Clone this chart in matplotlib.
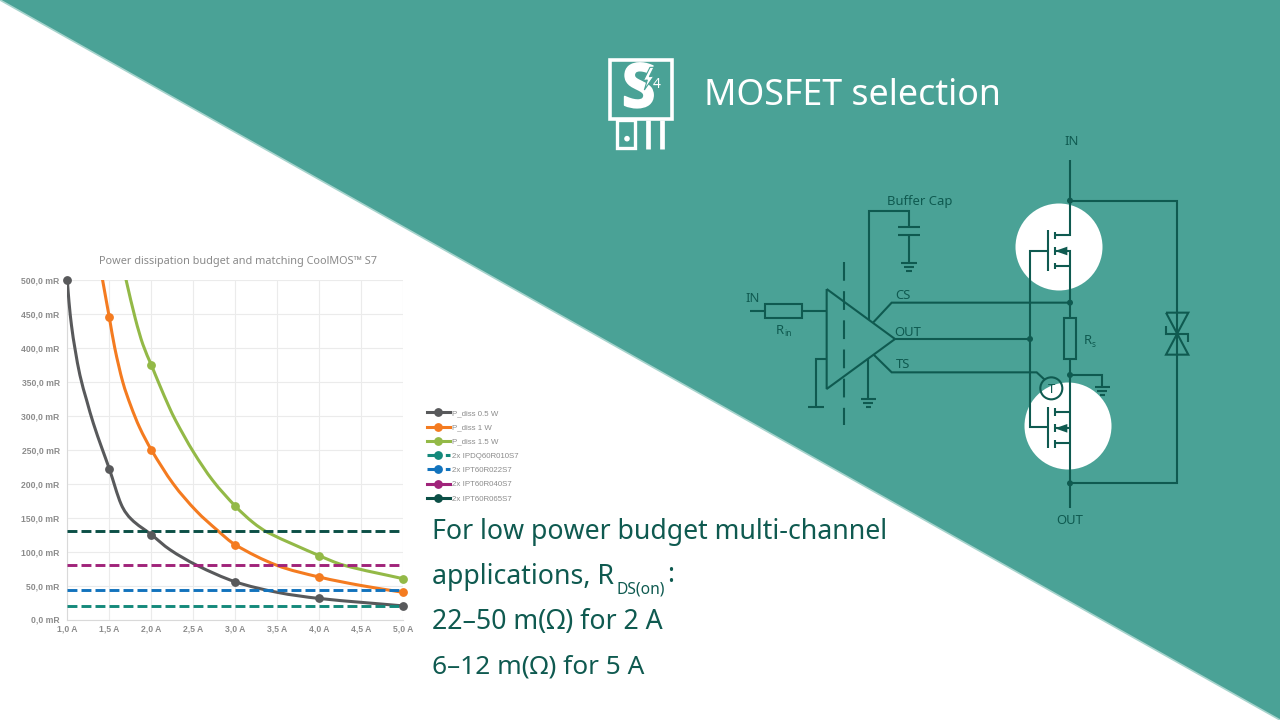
import matplotlib
matplotlib.use("Agg")
import matplotlib.pyplot as plt
from matplotlib.lines import Line2D
from matplotlib.path import Path
from matplotlib.patches import PathPatch, Polygon, Circle, Rectangle
import matplotlib.patheffects as pe

# ---------- data ----------
# points
P05_X = [1.0, 1.02, 1.05, 1.09, 1.15, 1.23, 1.31, 1.41, 1.5, 1.64, 1.76, 2.0, 2.22, 2.54, 3.0, 3.5, 4.0, 5.0]
P05_Y = [500, 468, 433, 400, 360, 323, 289, 253, 222, 170, 148, 125, 103, 80, 55.5, 40, 31, 20]
P10_X = [1.40, 1.42, 1.5, 1.565, 1.66, 1.755, 1.86, 2.0, 2.26, 2.535, 2.79, 3.0, 3.49, 4.0, 4.5, 5.0]
P10_Y = [515, 500, 445, 400, 350, 315, 283, 250, 200, 160, 131, 110, 80, 62.5, 50, 40]
P15_X = [1.68, 1.70, 1.81, 1.90, 2.0, 2.10, 2.205, 2.29, 2.5, 2.73, 3.0, 3.21, 3.39, 4.0, 4.29, 5.0]
P15_Y = [512, 500, 443, 405, 375, 345, 315, 293, 247, 205, 167, 143, 128, 94, 80, 60]
# the round dots on each curve
P05_DOT_X = [1.0, 1.5, 2.0, 3.0, 4.0, 5.0]
P05_DOT_Y = [500, 222, 125, 55.5, 31, 20]
P10_DOT_X = [1.5, 2.0, 3.0, 4.0, 5.0]
P10_DOT_Y = [445, 250, 110, 62.5, 40]
P15_DOT_X = [2.0, 3.0, 4.0, 5.0]
P15_DOT_Y = [375, 167, 94, 60]
LEVEL_NAMES = ["2x IPDQ60R010S7", "2x IPT60R022S7", "2x IPT60R040S7", "2x IPT60R065S7"]
LEVEL_VALUES = [19.5, 43, 80, 130]
X_TICKS = [1.0, 1.5, 2.0, 2.5, 3.0, 3.5, 4.0, 4.5, 5.0]
X_LABELS = ["1,0 A", "1,5 A", "2,0 A", "2,5 A", "3,0 A", "3,5 A", "4,0 A", "4,5 A", "5,0 A"]
Y_TICKS = [0, 50, 100, 150, 200, 250, 300, 350, 400, 450, 500]
Y_LABELS = ["0,0 mR", "50,0 mR", "100,0 mR", "150,0 mR", "200,0 mR", "250,0 mR",
            "300,0 mR", "350,0 mR", "400,0 mR", "450,0 mR", "500,0 mR"]
CURVE_NAMES = ["P_diss 0.5 W", "P_diss 1 W", "P_diss 1.5 W"]
CURVE_COLORS = ["#58595b", "#f47b20", "#93b947"]
LEVEL_COLORS = ["#14897b", "#1273bd", "#a0237a", "#0b4f46"]
TITLE = "Power dissipation budget and matching CoolMOS\u2122 S7"
HEADING = "MOSFET selection"
BODY_LINES = ["For low power budget multi-channel", "applications, R", "22\u201350 m(\u03a9) for 2 A", "6\u201312 m(\u03a9) for 5 A"]

TEAL = "#4aa296"
EDGE = "#a5d3cc"
DARK = "#0f5a50"
W, H = 1280, 720

fig = plt.figure(figsize=(12.8, 7.2), dpi=100, facecolor="white")
bg = fig.add_axes([0, 0, 1, 1], zorder=0)
bg.set_xlim(0, W); bg.set_ylim(H, 0); bg.axis("off")

# ---------- background ----------
bg.add_patch(Polygon([(0, 0), (W, 0), (W, H)], closed=True, fc=TEAL, ec="none"))
bg.plot([0, W], [0, H], color=EDGE, lw=1.2)
bg.add_patch(Circle((1059, 247), 43.5, fc="white", ec="none", zorder=1))
bg.add_patch(Circle((1068, 426), 43.5, fc="white", ec="none", zorder=1))

def Z(x, y):
    return 730 + x / 3, 120 + y / 3

def wire(*pts, lw=1.5, **kw):
    xy = [Z(*p) for p in pts]
    bg.plot([p[0] for p in xy], [p[1] for p in xy], color=DARK, lw=lw,
            solid_capstyle="butt", solid_joinstyle="miter", zorder=2, **kw)

def ground(x, y):
    wire((x - 23, y), (x + 23, y))
    wire((x - 15, y + 12), (x + 15, y + 12))
    wire((x - 8, y + 24), (x + 8, y + 24))

# ---------- schematic ----------
wire((1020, 120), (1020, 345), (975, 345))
wire((975, 393), (1020, 393), (1020, 1165))
wire((975, 438), (1020, 438))
wire((953, 330), (953, 453))
wire((975, 335), (975, 358)); wire((975, 380), (975, 405)); wire((975, 428), (975, 448))
wire((953, 393), (900, 393), (900, 920), (953, 920))
wire((953, 860), (953, 985))
wire((975, 865), (975, 888)); wire((975, 912), (975, 937)); wire((975, 960), (975, 985))
wire((975, 875), (1020, 875)); wire((975, 925), (1020, 925)); wire((975, 968), (1020, 968))
for cy in (393, 925):
    bg.add_patch(Polygon([Z(975, cy), Z(1012, cy - 13), Z(1012, cy + 13)], closed=True,
                         fc=DARK, ec="none", zorder=3))
wire((1020, 242), (1340, 242), (1340, 1090), (1020, 1090))
wire((1308, 578), (1375, 578), (1308, 704), (1375, 704), (1308, 578))
wire((1308, 617), (1308, 642), (1375, 642), (1375, 665))
(rx, ry) = Z(1002, 595)
bg.add_patch(Rectangle((rx, ry), 35 / 3, 123 / 3, fc=TEAL, ec=DARK, lw=1.5, zorder=3))
(rx, ry) = Z(105, 553)
bg.add_patch(Rectangle((rx, ry), 110 / 3, 40 / 3, fc=TEAL, ec=DARK, lw=1.5, zorder=3))
wire((60, 573), (105, 573)); wire((215, 573), (290, 573))
wire((290, 507), (495, 657), (290, 807), (290, 507))
wire((430, 607), (485, 548), (1020, 548))
wire((490, 657), (900, 657))
wire((430, 703), (485, 757), (920, 757), (945, 780))
wire((343, 425), (343, 915), linestyle=(0, (9, 5)))
wire((290, 717), (257, 717), (257, 862)); wire((233, 862), (282, 862))
wire((418, 600), (418, 273), (537, 273), (537, 322))
wire((503, 322), (571, 322)); wire((503, 345), (571, 345))
wire((537, 345), (537, 430)); ground(537, 430)
wire((415, 715), (415, 838)); ground(415, 838)
wire((1020, 765), (1117, 765), (1117, 800)); ground(1117, 800)
cx, cy = Z(964, 805)
bg.add_patch(Circle((cx, cy), 11, fc="none", ec=DARK, lw=1.5, zorder=3))
for p in [(1020, 242), (1020, 548), (1020, 765), (1020, 1090), (900, 657)]:
    cx, cy = Z(*p)
    bg.add_patch(Circle((cx, cy), 3, fc=DARK, ec="none", zorder=3))

SF = ["Noto Sans", "DejaVu Sans"]
def label(x, y, s, size=9.4, **kw):
    px, py = Z(x, y)
    bg.text(px, py, s, color=DARK, fontsize=size, family=SF, ha="center", va="center", zorder=4, **kw)
label(1025, 65, "IN"); label(570, 245, "Buffer Cap"); label(68, 535, "IN")
label(150, 630, "R"); label(174, 641, "in", size=6)
label(518, 527, "CS"); label(533, 636, "OUT"); label(518, 735, "TS")
label(1072, 660, "R"); label(1090, 674, "s", size=6)
label(964, 808, "T"); label(1020, 1203, "OUT")

# ---------- logo ----------
def lz(x, y):
    return 590 + x / 3, 40 + y / 3
(lx, ly) = lz(60, 60)
bg.add_patch(Rectangle((lx, ly), 62, 59, fc="none", ec="white", lw=2.6))
(lx, ly) = lz(82, 240)
bg.add_patch(Rectangle((lx, ly), 17.5, 28, fc="none", ec="white", lw=2.4))
for zx in (175, 216):
    a, b = lz(zx, 240)
    bg.plot([a, a], [b, b + 29], color="white", lw=3.4, solid_capstyle="butt")
a, b = lz(111, 296)
bg.add_patch(Circle((a, b), 2.8, fc="white", ec="none"))
a, b = lz(146, 155)
bg.text(a, b, "S", color="white", fontsize=44, fontweight="bold", family=["Liberation Sans Narrow", "Open Sans"],
        ha="center", va="center", path_effects=[pe.withStroke(linewidth=1.2, foreground="white")])
bg.add_patch(Polygon([lz(180, 82), lz(160, 122), lz(172, 120), lz(163, 150), lz(192, 108), lz(178, 110), lz(192, 82)],
                     closed=True, fc="white", ec=TEAL, lw=0.8, zorder=3))
a, b = lz(201, 132)
bg.text(a, b, "4", color="white", fontsize=10, family=SF, ha="center", va="center", zorder=3)
bg.text(704, 96, HEADING, color="white", fontsize=25.7, family=SF, ha="left", va="center")

# ---------- body text ----------
BS = 19.2
bg.text(432, 532, BODY_LINES[0], color=DARK, fontsize=BS, family=SF, ha="left", va="center")
bg.text(432, 577, BODY_LINES[1], color=DARK, fontsize=BS, family=SF, ha="left", va="center")
bg.text(617, 590, "DS(on)", color=DARK, fontsize=11.2, family=SF, ha="left", va="center")
bg.text(667, 575, ":", color=DARK, fontsize=BS, family=SF, ha="left", va="center")
bg.text(432, 622, BODY_LINES[2], color=DARK, fontsize=BS, family=SF, ha="left", va="center")
bg.text(432, 667, BODY_LINES[3], color=DARK, fontsize=BS - 0.3, family=SF, ha="left", va="center")

# ---------- chart ----------
L, R, T, B = 67.3, 403.3, 280, 619.5
ax = fig.add_axes([L / W, 1 - B / H, (R - L) / W, (B - T) / H], zorder=2)
ax.patch.set_alpha(0)
ax.set_xlim(1, 5); ax.set_ylim(0, 500)
ax.set_xticks(X_TICKS); ax.set_xticklabels(X_LABELS)
ax.set_yticks(Y_TICKS); ax.set_yticklabels(Y_LABELS)
ax.grid(True, color="#ebebeb", lw=0.8)
ax.set_axisbelow(True)
for s in ("top", "right"):
    ax.spines[s].set_visible(False)
for s in ("left", "bottom"):
    ax.spines[s].set_color("#d9d9d9"); ax.spines[s].set_linewidth(0.8)
ax.tick_params(axis="y", length=0, pad=5.5, labelsize=6.2, labelcolor="#8c8c8c")
ax.tick_params(axis="x", length=0, pad=3.5, labelsize=6.2, labelcolor="#8c8c8c")
for lab in ax.get_xticklabels() + ax.get_yticklabels():
    lab.set_family("Liberation Sans"); lab.set_fontweight("bold")
fig.text(238 / W, 1 - 261 / H, TITLE, color="#8a8a8a", fontsize=7.85, family=SF, ha="center", va="center")

def smooth_path(xs, ys):
    # smoothed line through the values
    n = len(xs)
    m = []
    for i in range(n):
        a, b = max(i - 1, 0), min(i + 1, n - 1)
        m.append((ys[b] - ys[a]) / (xs[b] - xs[a]))
    verts, codes = [(xs[0], ys[0])], [Path.MOVETO]
    for i in range(n - 1):
        d = (xs[i + 1] - xs[i]) / 3
        verts += [(xs[i] + d, ys[i] + m[i] * d), (xs[i + 1] - d, ys[i + 1] - m[i + 1] * d), (xs[i + 1], ys[i + 1])]
        codes += [Path.CURVE4] * 3
    return Path(verts, codes)

handles = []
for xs, ys, dx, dy, c, name in zip((P05_X, P10_X, P15_X), (P05_Y, P10_Y, P15_Y),
                                   (P05_DOT_X, P10_DOT_X, P15_DOT_X), (P05_DOT_Y, P10_DOT_Y, P15_DOT_Y),
                                   CURVE_COLORS, CURVE_NAMES):
    ax.add_patch(PathPatch(smooth_path(xs, ys), fc="none", ec=c, lw=2.2, zorder=3))
    ax.plot(dx, dy, ls="none", marker="o", ms=5.3, color=c, clip_on=False, zorder=5)
    handles.append(Line2D([], [], color=c, lw=2.2, marker="o", ms=5.3, label=name))
for v, c, name in zip(LEVEL_VALUES, LEVEL_COLORS, LEVEL_NAMES):
    ax.plot([X_TICKS[0], X_TICKS[-1]], [v, v], color=c, lw=2.1, dashes=(3.4, 1.4), zorder=4, label=name)
    handles.append(Line2D([], [], color=c, lw=2.2, marker="o", ms=5.3,
                          dashes=(4.2, 1.8) if name in LEVEL_NAMES[:2] else (None, None), label=name))

leg = fig.legend(handles=handles, loc="upper left", bbox_to_anchor=(427 / W, 1 - 409.5 / H),
                 frameon=False, handlelength=2.9, handletextpad=0.25,
                 labelspacing=0.85, borderpad=0, borderaxespad=0,
                 prop={"family": "Liberation Sans", "size": 5.7})
for txt in leg.get_texts():
    txt.set_color("#8c8c8c")

fig.savefig("out.png", dpi=100)
